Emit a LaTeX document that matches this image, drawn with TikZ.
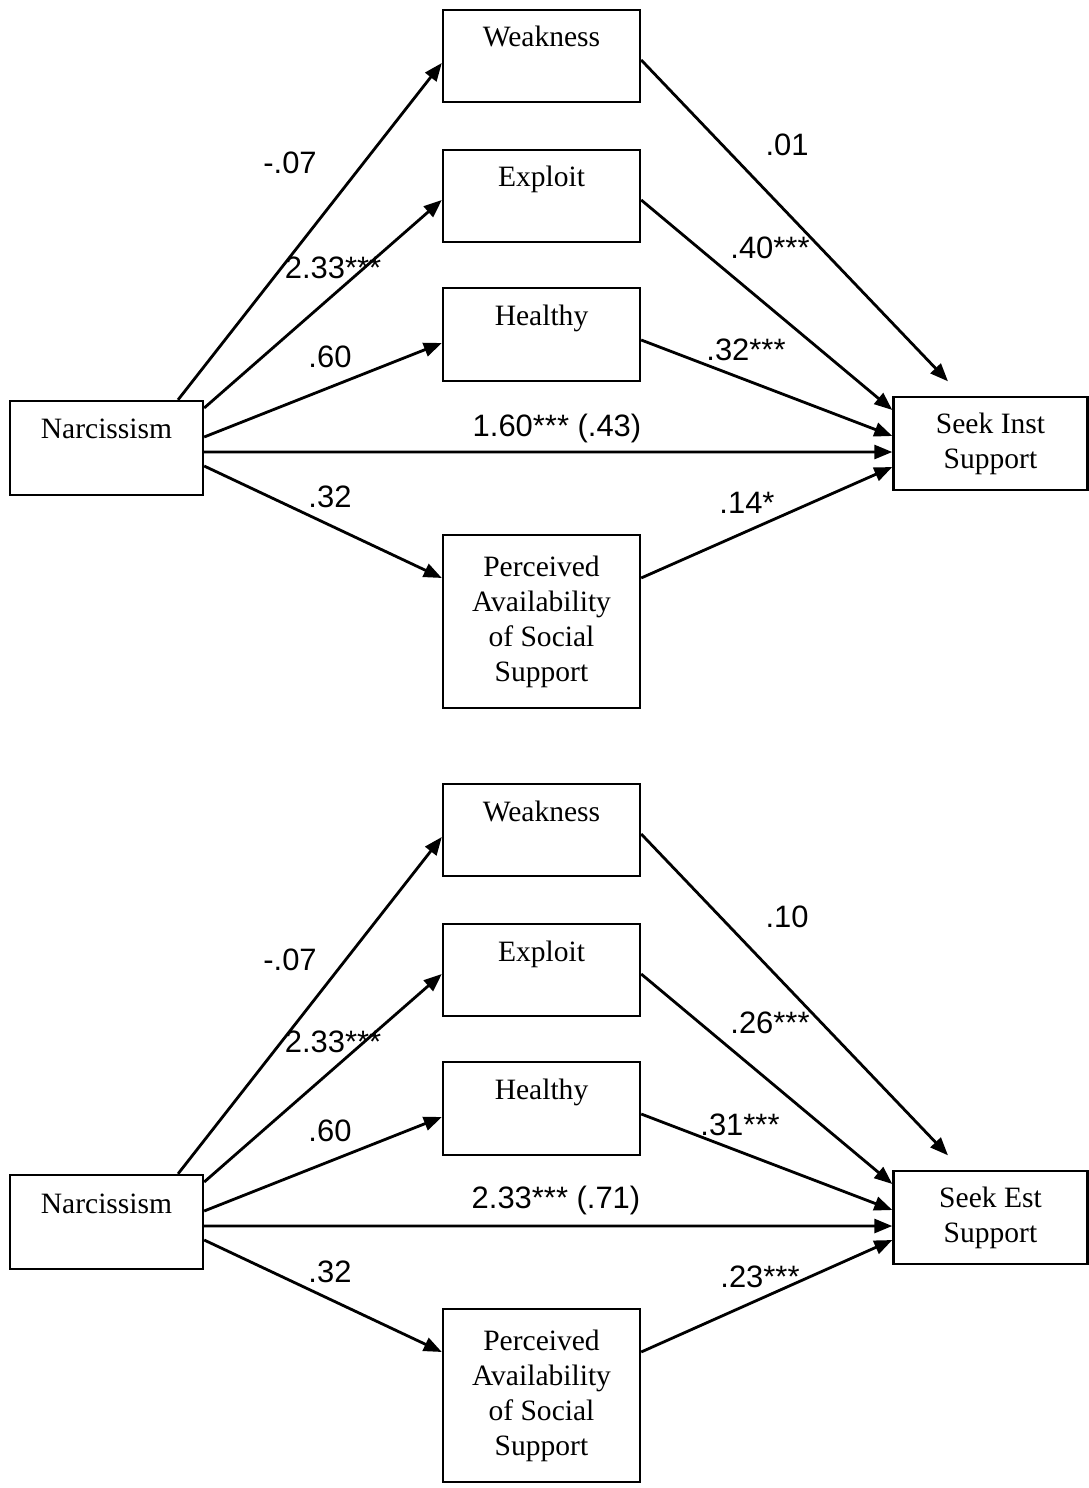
\documentclass[tikz,border=0pt]{standalone}
\usepackage{fontspec}
\setmainfont{Liberation Serif}
\newfontfamily\arialfont{Liberation Sans}
\usetikzlibrary{arrows.meta}
\begin{document}
\begin{tikzpicture}[x=0.01cm,y=-0.01cm]
		\tikzstyle{every node}+=[inner sep=0pt]
		\tikzstyle{vbox}=[draw,line width=0.65pt,align=center,minimum width=1.97cm,font=\fontsize{8.4}{9.96}\selectfont]
		\tikzstyle{onerow}=[text height=0.2cm,text depth=0.38cm]
		\tikzstyle{link}=[line width=0.8pt,-{Triangle[length=0.18cm,width=0.14cm]}]
		\tikzstyle{coef}=[font=\arialfont\fontsize{8.8}{10}\selectfont]
		\useasboundingbox (0,0) rectangle (1089,1488);
		\node [vbox,onerow,minimum height=0.92cm] (weakA) at (541.5,56) {Weakness};
		\node [vbox,onerow,minimum height=0.92cm] (exploitA) at (541.5,196) {Exploit};
		\node [vbox,onerow,minimum height=0.93cm] (healthyA) at (541.5,334.5) {Healthy};
		\node [vbox,onerow,minimum width=1.93cm,minimum height=0.94cm] (narcA) at (106.5,448) {Narcissism};
		\node [vbox,minimum height=1.73cm] (passA) at (541.5,621.5) {Perceived\\Availability\\of Social\\Support};
		\node [vbox,minimum width=1.94cm,minimum height=0.93cm] (seekA) at (990.5,443.5) {Seek Inst\\Support};
		\draw [link] ([xshift=0.715cm]narcA.north) -- ([yshift=-0.07cm]weakA.west);
		\draw [link] ([yshift=0.4cm]narcA.east) -- ([yshift=-0.04cm]exploitA.west);
		\draw [link] ([yshift=0.11cm]narcA.east) -- ([yshift=-0.085cm]healthyA.west);
		\draw [link] ([yshift=-0.04cm]narcA.east) -- ([yshift=-0.085cm]seekA.west);
		\draw [link] ([yshift=-0.18cm]narcA.east) -- ([yshift=0.435cm]passA.west);
		\draw [link] ([yshift=-0.04cm]weakA.east) -- ([xshift=-0.425cm,yshift=0.145cm]seekA.north);
		\draw [link] ([yshift=-0.04cm]exploitA.east) -- ([yshift=0.335cm]seekA.west);
		\draw [link] ([yshift=-0.055cm]healthyA.east) -- ([yshift=0.075cm]seekA.west);
		\draw [link] ([yshift=0.435cm]passA.east) -- ([yshift=-0.235cm]seekA.west);
		\node [coef] (cWeakA) at (290,163) {-.07};
		\node [coef] (cExploitA) at (333,268) {2.33***};
		\node [coef] (cHealthyA) at (330,357) {.60};
		\node [coef] (cDirectA) at (557,428) {1.60*** (.43)};
		\node [coef] (cPassA) at (330,497) {.32};
		\node [coef] (dWeakA) at (787,145) {.01};
		\node [coef] (dExploitA) at (770,248) {.40***};
		\node [coef] (dHealthyA) at (746,350) {.32***};
		\node [coef] (dPassA) at (747,503) {.14*};
		\node [vbox,onerow,minimum height=0.92cm] (weakB) at (541.5,830) {Weakness};
		\node [vbox,onerow,minimum height=0.92cm] (exploitB) at (541.5,970) {Exploit};
		\node [vbox,onerow,minimum height=0.93cm] (healthyB) at (541.5,1108.5) {Healthy};
		\node [vbox,onerow,minimum width=1.93cm,minimum height=0.94cm] (narcB) at (106.5,1222) {Narcissism};
		\node [vbox,minimum height=1.73cm] (passB) at (541.5,1395.5) {Perceived\\Availability\\of Social\\Support};
		\node [vbox,minimum width=1.94cm,minimum height=0.93cm] (seekB) at (990.5,1217.5) {Seek Est\\Support};
		\draw [link] ([xshift=0.715cm]narcB.north) -- ([yshift=-0.07cm]weakB.west);
		\draw [link] ([yshift=0.4cm]narcB.east) -- ([yshift=-0.04cm]exploitB.west);
		\draw [link] ([yshift=0.11cm]narcB.east) -- ([yshift=-0.085cm]healthyB.west);
		\draw [link] ([yshift=-0.04cm]narcB.east) -- ([yshift=-0.085cm]seekB.west);
		\draw [link] ([yshift=-0.18cm]narcB.east) -- ([yshift=0.435cm]passB.west);
		\draw [link] ([yshift=-0.04cm]weakB.east) -- ([xshift=-0.425cm,yshift=0.145cm]seekB.north);
		\draw [link] ([yshift=-0.04cm]exploitB.east) -- ([yshift=0.335cm]seekB.west);
		\draw [link] ([yshift=-0.055cm]healthyB.east) -- ([yshift=0.075cm]seekB.west);
		\draw [link] ([yshift=0.435cm]passB.east) -- ([yshift=-0.225cm]seekB.west);
		\node [coef] (cWeakB) at (290,960) {-.07};
		\node [coef] (cExploitB) at (333,1042) {2.33***};
		\node [coef] (cHealthyB) at (330,1131) {.60};
		\node [coef] (cDirectB) at (556,1200) {2.33*** (.71)};
		\node [coef] (cPassB) at (330,1272) {.32};
		\node [coef] (dWeakB) at (787,917) {.10};
		\node [coef] (dExploitB) at (770,1023) {.26***};
		\node [coef] (dHealthyB) at (740,1125) {.31***};
		\node [coef] (dPassB) at (760,1277) {.23***};
	\end{tikzpicture}
\end{document}
